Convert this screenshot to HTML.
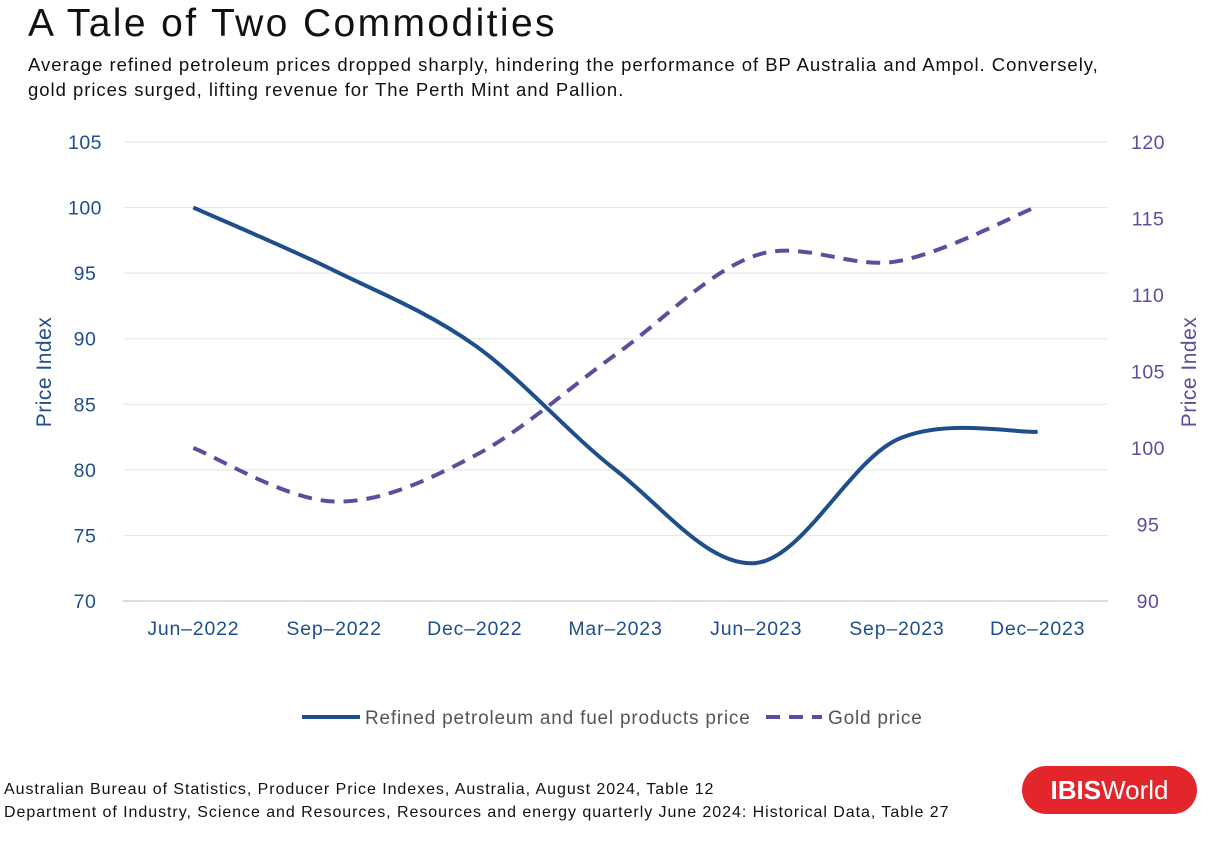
<!DOCTYPE html>
<html><head><meta charset="utf-8"><style>
body{margin:0;width:1212px;height:842px;background:#fff;font-family:"Liberation Sans",sans-serif;overflow:hidden;position:relative}
.t{position:absolute;white-space:nowrap}
</style></head><body>
<div class="t" style="left:28px;top:2px;font-size:39px;color:#111;letter-spacing:2.4px">A Tale of Two Commodities</div>
<div class="t" style="left:28px;top:52px;font-size:18.5px;color:#111;line-height:25px;letter-spacing:0.97px">Average refined petroleum prices dropped sharply, hindering the performance of BP Australia and Ampol. Conversely,<br>gold prices surged, lifting revenue for The Perth Mint and Pallion.</div>
<svg id="c" width="1212" height="842" style="position:absolute;left:0;top:0"></svg>
<div class="t" style="left:4px;top:778px;font-size:16px;color:#111;line-height:23px;letter-spacing:0.95px">Australian Bureau of Statistics, Producer Price Indexes, Australia, August 2024, Table 12<br>Department of Industry, Science and Resources, Resources and energy quarterly June 2024: Historical Data, Table 27</div>
<div style="position:absolute;left:1022px;top:766px;width:175px;height:48px;border-radius:24px;background:#e3262b;color:#fff;font-size:26px;line-height:48px;text-align:center"><b>IBIS</b>World</div>
<script>
const categories=["Jun\u20132022","Sep\u20132022","Dec\u20132022","Mar\u20132023","Jun\u20132023","Sep\u20132023","Dec\u20132023"];
const petroleum=[100,95.2,89.5,80,72.9,82.3,82.9];
const gold=[100,96.5,99.5,106.1,112.6,112.2,115.8];
const leftTicks=[70,75,80,85,90,95,100,105];
const rightTicks=[90,95,100,105,110,115,120];
const svg=document.getElementById('c');const NS="http://www.w3.org/2000/svg";
const X0=123,X1=1108,Y0=601,Y1=142;
const xs=i=>X0+(X1-X0)*(i+0.5)/categories.length;
const yl=v=>Y0-(v-70)/35*(Y0-Y1);
const yr=v=>Y0-(v-90)/30*(Y0-Y1);
function el(t,a,txt){const e=document.createElementNS(NS,t);for(const k in a)e.setAttribute(k,a[k]);if(txt!==undefined)e.textContent=txt;svg.appendChild(e);return e;}
leftTicks.forEach(v=>{
 const g=el('line',{x1:X0,x2:X1,y1:yl(v),y2:yl(v),stroke:v==70?'#bbb':'#e3e3e3','stroke-width':1});
 
 const t=el('text',{x:85,y:yl(v)+7,'text-anchor':'middle','font-size':19.5,'letter-spacing':0.5,fill:'#1f4e8c','font-family':'Liberation Sans'},v);
 
});
rightTicks.forEach(v=>{
 const t=el('text',{x:1148,y:yr(v)+7,'text-anchor':'middle','font-size':19.5,'letter-spacing':0.5,fill:'#5b4e9c','font-family':'Liberation Sans'},v);
 
});
categories.forEach((c,i)=>{
 const t=el('text',{x:xs(i),y:635,'text-anchor':'middle','font-size':19.5,'letter-spacing':0.8,fill:'#1f4e8c','font-family':'Liberation Sans'},c);
 
});
let a=el('text',{x:0,y:0,transform:'translate(51,372) rotate(-90)','text-anchor':'middle','font-size':21,'letter-spacing':0.5,fill:'#1f4e8c','font-family':'Liberation Sans'},'Price Index');

a=el('text',{x:0,y:0,transform:'translate(1196,372) rotate(-90)','text-anchor':'middle','font-size':21,'letter-spacing':0.5,fill:'#5b4e9c','font-family':'Liberation Sans'},'Price Index');

function path(vals,yf){const p=vals.map((v,i)=>[xs(i),yf(v)]);let d=`M${p[0][0]},${p[0][1]}`;
 for(let i=0;i<p.length-1;i++){const p0=p[i-1]||p[i],p1=p[i],p2=p[i+1],p3=p[i+2]||p2;
  const c1=[p1[0]+(p2[0]-p0[0])/6,p1[1]+(p2[1]-p0[1])/6],c2=[p2[0]-(p3[0]-p1[0])/6,p2[1]-(p3[1]-p1[1])/6];
  d+=` C${c1[0]},${c1[1]} ${c2[0]},${c2[1]} ${p2[0]},${p2[1]}`;}return d;}
let s=el('path',{d:path(gold,yr),fill:'none',stroke:'#5b4e9c','stroke-width':4,'stroke-dasharray':'14 9'});

s=el('path',{d:path(petroleum,yl),fill:'none',stroke:'#1f4e8c','stroke-width':4});

let l=el('line',{x1:302,x2:360,y1:717,y2:717,stroke:'#1f4e8c','stroke-width':4});

l=el('text',{x:365,y:724,'font-size':19,'letter-spacing':0.8,fill:'#555','font-family':'Liberation Sans'},'Refined petroleum and fuel products price');

l=el('line',{x1:766,x2:822,y1:717,y2:717,stroke:'#5b4e9c','stroke-width':4,'stroke-dasharray':'14 9'});

l=el('text',{x:828,y:724,'font-size':19,'letter-spacing':0.8,fill:'#555','font-family':'Liberation Sans'},'Gold price');

</script>
</body></html>
